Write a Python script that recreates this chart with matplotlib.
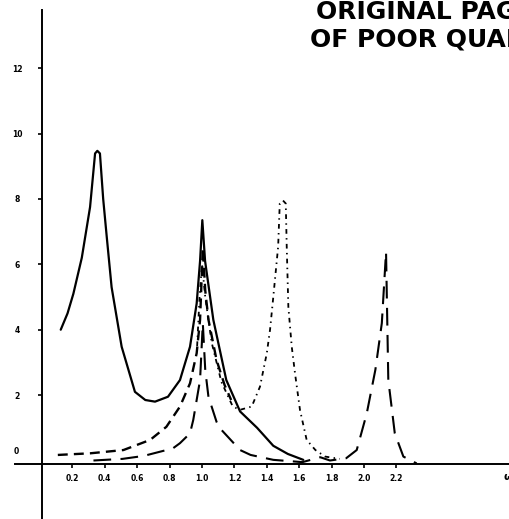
import matplotlib
matplotlib.use("Agg")
import matplotlib.pyplot as plt

# ---- data ----
omega_solid = [0.128, 0.17, 0.206, 0.258, 0.309, 0.34, 0.354, 0.37, 0.39, 0.412, 0.442,
               0.504, 0.586, 0.65, 0.71, 0.79, 0.864, 0.926, 0.967, 0.988, 1.002,
               1.019, 1.07, 1.15, 1.235, 1.34, 1.44, 1.53, 1.625]
resp_solid = [4.0, 4.5, 5.1, 6.2, 7.75, 9.39, 9.47, 9.39, 8.0, 6.84, 5.3,
              3.48, 2.1, 1.85, 1.8, 1.95, 2.46, 3.48, 4.8, 6.1, 7.35,
              6.1, 4.3, 2.46, 1.5, 1.0, 0.45, 0.2, 0.02]

omega_short = [0.11, 0.31, 0.515, 0.68, 0.78, 0.864, 0.926, 0.967, 0.988, 1.005,
               1.02, 1.04, 1.09, 1.14, 1.18]
resp_short = [0.17, 0.22, 0.32, 0.63, 1.03, 1.65, 2.36, 3.28, 4.3, 6.5,
              5.2, 4.3, 3.07, 2.3, 1.85]

omega_dot = [0.97, 0.985, 1.0, 1.02, 1.06, 1.12, 1.19, 1.235, 1.307, 1.358, 1.40,
             1.42, 1.44, 1.47, 1.48, 1.50, 1.517, 1.523, 1.533, 1.554, 1.574, 1.605,
             1.646, 1.70, 1.76, 1.85]
resp_dot = [3.5, 5.0, 6.0, 5.0, 3.6, 2.4, 1.65, 1.55, 1.65, 2.26, 3.28,
            4.0, 5.0, 6.54, 7.86, 7.95, 7.86, 6.54, 4.7, 3.48, 2.67, 1.54,
            0.63, 0.32, 0.12, 0.05]

omega_long = [0.33, 0.51, 0.64, 0.82, 0.864, 0.926, 0.946, 0.988, 1.005, 1.02, 1.04,
              1.06, 1.09, 1.11, 1.235, 1.30, 1.44, 1.62, 1.73, 1.79, 1.89, 1.955,
              2.017, 2.07, 2.11, 2.136, 2.15, 2.17, 2.19, 2.243, 2.325]
resp_long = [0.0, 0.05, 0.14, 0.37, 0.53, 0.83, 1.24, 2.46, 4.2, 2.77, 1.94,
             1.64, 1.18, 0.99, 0.32, 0.17, 0.02, -0.05, 0.1, 0.0, 0.07, 0.32,
             1.44, 2.77, 4.2, 6.38, 2.46, 1.65, 0.83, 0.12, -0.09]

y_ticks = [2, 4, 6, 8, 10, 12]
y_tick_labels = ["2", "4", "6", "8", "10", "12"]
x_ticks = [0.2, 0.4, 0.6, 0.8, 1.0, 1.2, 1.4, 1.6, 1.8, 2.0, 2.2]
x_tick_labels = ["0.2", "0.4", "0.6", "0.8", "1.0", "1.2", "1.4", "1.6", "1.8", "2.0", "2.2"]

W, H = 509, 519
fig = plt.figure(figsize=(W / 100, H / 100), dpi=100)
ax = fig.add_axes([0, 0, 1, 1])
ax.set_xlim(-0.2469, 2.895)
ax.set_ylim(-1.789, 14.083)
ax.patch.set_alpha(0)

ax.plot(omega_solid, resp_solid, color="black", lw=1.6, solid_capstyle="round")
ax.plot(omega_short, resp_short, color="black", lw=1.7, linestyle=(0, (4.2, 2.6)))
ax.plot(omega_dot, resp_dot, color="black", lw=1.3, linestyle=(0, (2.6, 2.4, 0.8, 2.4)))
ax.plot(omega_long, resp_long, color="black", lw=1.5, linestyle=(0, (8.5, 4.5)))

# axes spines as in the drawing
for s in ["top", "right"]:
    ax.spines[s].set_visible(False)
ax.spines["left"].set_position(("data", 0.012))
ax.spines["left"].set_bounds(-1.789, 13.78)
ax.spines["bottom"].set_position(("data", -0.107))
ax.spines["bottom"].set_bounds(-0.154, 2.895)
ax.spines["left"].set_linewidth(1.4)
ax.spines["bottom"].set_linewidth(1.4)

ax.set_yticks(y_ticks)
ax.set_yticklabels(y_tick_labels, fontsize=5.5, fontweight="bold")
ax.tick_params(axis="y", direction="out", length=3, width=1.2, pad=15)
ax.set_xticks(x_ticks)
ax.set_xticklabels(x_tick_labels, fontsize=5.5, fontweight="bold")
ax.tick_params(axis="x", direction="out", length=3, width=1.2, pad=4)
for lab in ax.get_yticklabels():
    lab.set_horizontalalignment("center")

ax.text(-0.148, 0.26, "0", fontsize=5.5, fontweight="bold", ha="center", va="center")
ax.text(2.86, -0.5, "ω", fontsize=8, fontweight="bold", ha="left", va="center")

fig.text(316 / W, 1 - 19 / H, "ORIGINAL PAGE IS", fontsize=18, fontweight="heavy",
         ha="left", va="baseline")
fig.text(310 / W, 1 - 47 / H, "OF POOR QUALITY", fontsize=18, fontweight="heavy",
         ha="left", va="baseline")

fig.savefig("out.png", dpi=100)
